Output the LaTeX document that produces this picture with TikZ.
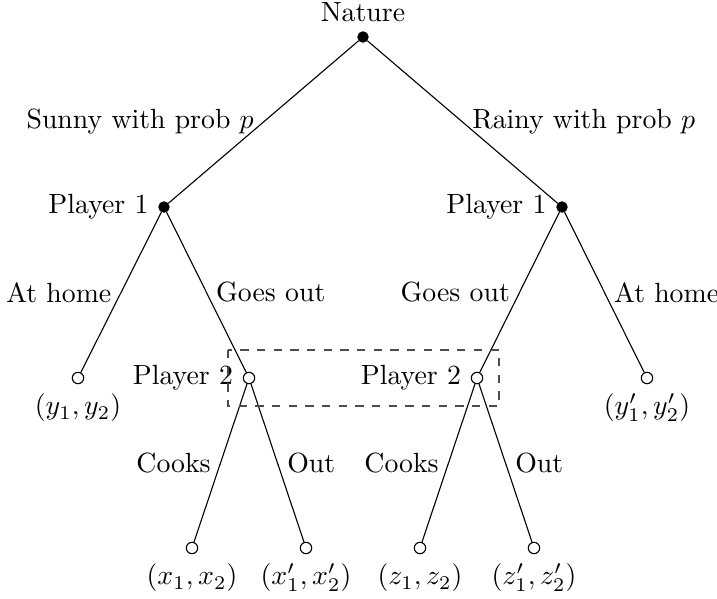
\documentclass[tikz,border=0pt]{standalone}
\usetikzlibrary{calc}
\begin{document}
\begin{tikzpicture}[x=0.36pt,y=-0.36pt,
  decnode/.style={circle,fill=black,draw=black,inner sep=0pt,minimum size=3.7pt},
  termnode/.style={circle,fill=white,draw=black,inner sep=0pt,minimum size=4.1pt},
  branch/.style={draw=black,line width=0.4pt},
  lleft/.style={anchor=east},
  lright/.style={anchor=west},
  infoset/.style={draw=black!70,dashed,line width=0.5pt}]
\useasboundingbox (0,0) rectangle (717,598);
% nodes
\node[decnode,label={[label distance=0pt]above:Nature}] (n) at (363,37) {};
\node[decnode,label={left:Player 1}] (p1l) at (164,207) {};
\node[decnode,label={left:Player 1}] (p1r) at (562,207) {};
\node[termnode,label={below:$(y_1,y_2)$}] (t1) at (78,378) {};
\node[termnode,label={left:Player 2}] (p2l) at (249,378) {};
\node[termnode,label={left:Player 2}] (p2r) at (477,378) {};
\node[termnode,label={below:$(y_1',y_2')$}] (t2) at (647,378) {};
\node[termnode,label={below:$(x_1,x_2)$}] (t3) at (192,548) {};
\node[termnode,label={below:$(x_1',x_2')$}] (t4) at (306,548) {};
\node[termnode,label={below:$(z_1,z_2)$}] (t5) at (420,548) {};
\node[termnode,label={below:$(z_1',z_2')$}] (t6) at (534,548) {};
% branches
\draw[branch] (n) -- node[lleft]{Sunny with prob $p$} (p1l);
\draw[branch] (n) -- node[lright]{Rainy with prob $p$} (p1r);
\draw[branch] (p1l) -- node[lleft]{At home} (t1);
\draw[branch] (p1l) -- node[lright]{Goes out} (p2l);
\draw[branch] (p1r) -- node[lleft]{Goes out} (p2r);
\draw[branch] (p1r) -- node[lright]{At home} (t2);
\draw[branch] (p2l) -- node[lleft]{Cooks} (t3);
\draw[branch] (p2l) -- node[lright]{Out} (t4);
\draw[branch] (p2r) -- node[lleft]{Cooks} (t5);
\draw[branch] (p2r) -- node[lright]{Out} (t6);
% information set
\coordinate (ia) at ($(p2l)+(-21,-28)$);
\coordinate (ib) at ($(p2r)+(22,28)$);
\draw[infoset] (ia) rectangle (ib);
\end{tikzpicture}
\end{document}
